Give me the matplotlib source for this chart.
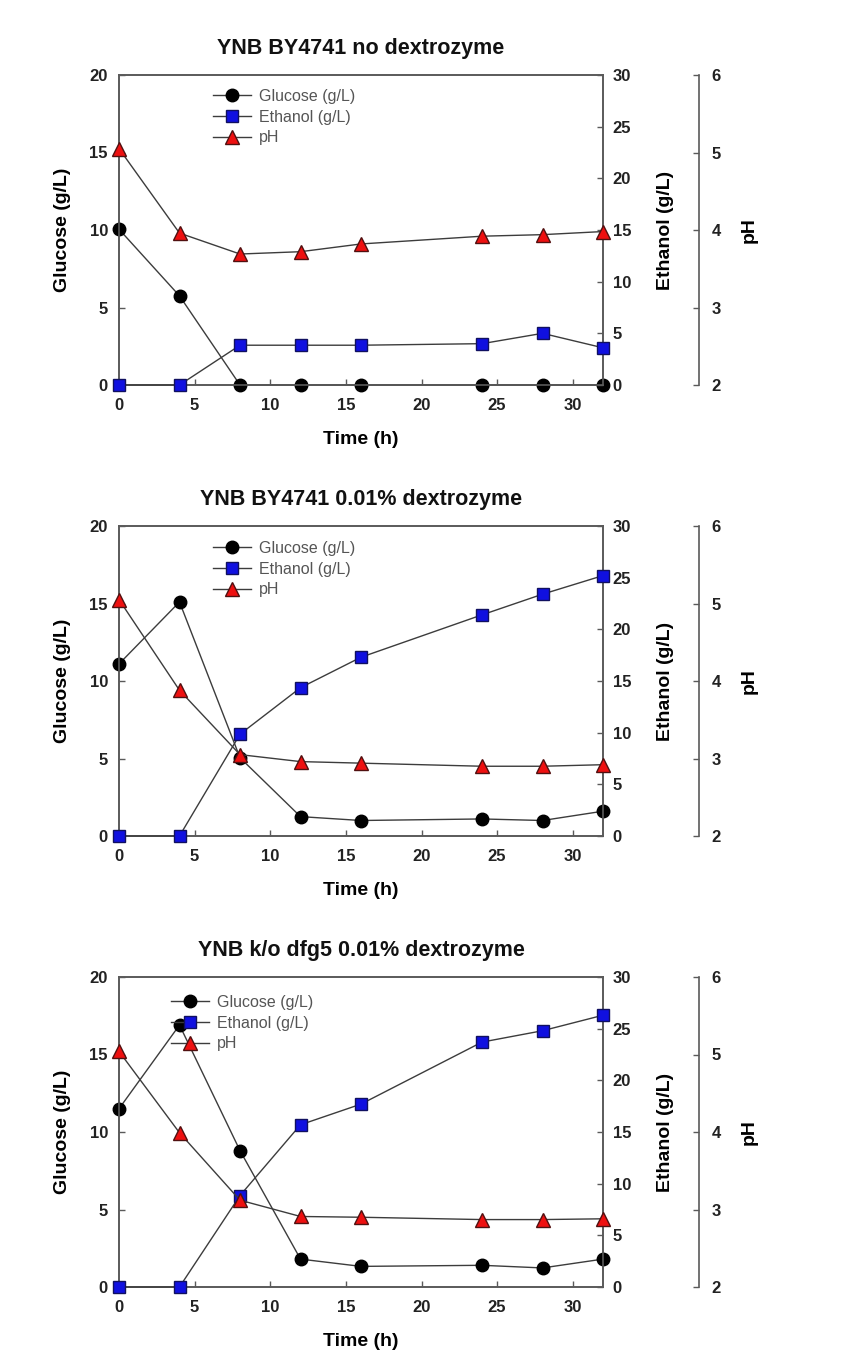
import matplotlib
matplotlib.use('Agg')
import matplotlib.pyplot as plt

plt.rcParams['font.family'] = ['Liberation Sans', 'DejaVu Sans']

hours = [0, 4, 8, 12, 16, 24, 28, 32]

titles = ["YNB BY4741 no dextrozyme",
          "YNB BY4741 0.01% dextrozyme",
          "YNB k/o dfg5 0.01% dextrozyme"]

glucose_a = [10.05, 5.75, 0, 0, 0, 0, 0, 0]
ethanol_a = [0, 0, 3.85, 3.85, 3.85, 4.0, 5.0, 3.6]
ph_a = [5.05, 3.96, 3.69, 3.72, 3.82, 3.92, 3.94, 3.98]

glucose_b = [11.1, 15.1, 5.05, 1.25, 1.0, 1.1, 1.0, 1.6]
ethanol_b = [0, 0, 9.85, 14.35, 17.3, 21.4, 23.4, 25.2]
ph_b = [5.05, 3.88, 3.05, 2.96, 2.94, 2.9, 2.9, 2.92]

glucose_c = [11.5, 16.9, 8.8, 1.8, 1.33, 1.4, 1.23, 1.8]
ethanol_c = [0, 0, 8.85, 15.7, 17.7, 23.7, 24.8, 26.3]
ph_c = [5.04, 3.99, 3.12, 2.91, 2.9, 2.87, 2.87, 2.88]

W, H = 842, 1370
fig = plt.figure(figsize=(W / 100, H / 100), dpi=100)

spine_col = '#5a5a5a'
line_col = '#3c3c3c'

# data, top of the plot (px), legend anchor (px)
panels = [
    (glucose_a, ethanol_a, ph_a, 75, (213, 89)),
    (glucose_b, ethanol_b, ph_b, 526, (213, 541)),
    (glucose_c, ethanol_c, ph_c, 977, (171, 995)),
]
x0, x1 = 119, 603
ph_ = 310

def style_ticks(a, which):
    a.tick_params(axis=which, direction='in', length=4, width=1, colors=spine_col,
                  labelcolor='#222222', labelsize=12)
    for lab in (a.get_xticklabels() if which == 'x' else a.get_yticklabels()):
        lab.set_fontweight('bold')

for i, (glu, eth, ph, top, leg) in enumerate(panels):
    rect = [x0 / W, 1 - (top + ph_) / H, (x1 - x0) / W, ph_ / H]
    ax = fig.add_axes(rect)
    ax2 = ax.twinx()
    ax3 = ax.twinx()

    l1, = ax.plot(hours, glu, '-', color=line_col, lw=1, marker='o', ms=9,
                  mfc='black', mec='black', clip_on=False, zorder=3, label='Glucose (g/L)')
    l2, = ax2.plot(hours, eth, '-', color=line_col, lw=1, marker='s', ms=8.5,
                   mfc='#1010e0', mec='#101060', clip_on=False, zorder=3, label='Ethanol (g/L)')
    l3, = ax3.plot(hours, ph, '-', color=line_col, lw=1, marker='^', ms=9.5,
                   mfc='#ee1010', mec='#501010', clip_on=False, zorder=3, label='pH')

    ax.set_xlim(0, 32)
    ax.set_ylim(0, 20)
    ax2.set_ylim(0, 30)
    ax3.set_ylim(2, 6)
    ax.set_xticks([0, 5, 10, 15, 20, 25, 30])
    ax.set_yticks([0, 5, 10, 15, 20])
    ax2.set_yticks([0, 5, 10, 15, 20, 25, 30])
    ax3.set_yticks([2, 3, 4, 5, 6])

    for a in (ax, ax2, ax3):
        for s in a.spines.values():
            s.set_color(spine_col)
            s.set_linewidth(1.2)
    ax3.spines['right'].set_position(('axes', (699 - x0) / (x1 - x0)))
    for s in ('left', 'top', 'bottom'):
        ax3.spines[s].set_visible(False)

    style_ticks(ax, 'x')
    style_ticks(ax, 'y')
    style_ticks(ax2, 'y')
    style_ticks(ax3, 'y')
    ax.tick_params(axis='x', pad=9)
    ax.tick_params(axis='y', pad=8)
    ax2.tick_params(axis='y', pad=7)
    ax3.tick_params(axis='y', pad=9)

    ax.set_xlabel('Time (h)', fontsize=14, fontweight='bold')
    ax.set_ylabel('Glucose (g/L)', fontsize=14, fontweight='bold')
    ax2.set_ylabel('Ethanol (g/L)', fontsize=14, fontweight='bold')
    ax3.set_ylabel('pH', fontsize=14, fontweight='bold')
    ax.xaxis.set_label_coords(0.5, -46 / ph_)
    ax.yaxis.set_label_coords((71 - x0) / (x1 - x0), 0.5)
    ax2.yaxis.set_label_coords((657 - x0) / (x1 - x0), 0.5)
    ax3.yaxis.set_label_coords((741 - x0) / (x1 - x0), 0.5)

    ax.set_title(titles[i], fontsize=15.5, fontweight='bold', pad=15, color='#111111')

    lx, ly = leg
    lg = ax3.legend([l1, l2, l3], [l1.get_label(), l2.get_label(), l3.get_label()],
                    loc='upper left',
                    bbox_to_anchor=((lx - x0) / (x1 - x0), 1 - (ly - top) / ph_),
                    frameon=False, fontsize=11.5, borderpad=0, borderaxespad=0,
                    handlelength=2.4, handletextpad=0.5, labelspacing=0.35)
    for t in lg.get_texts():
        t.set_color('#555555')

fig.savefig('out.png', dpi=100)
